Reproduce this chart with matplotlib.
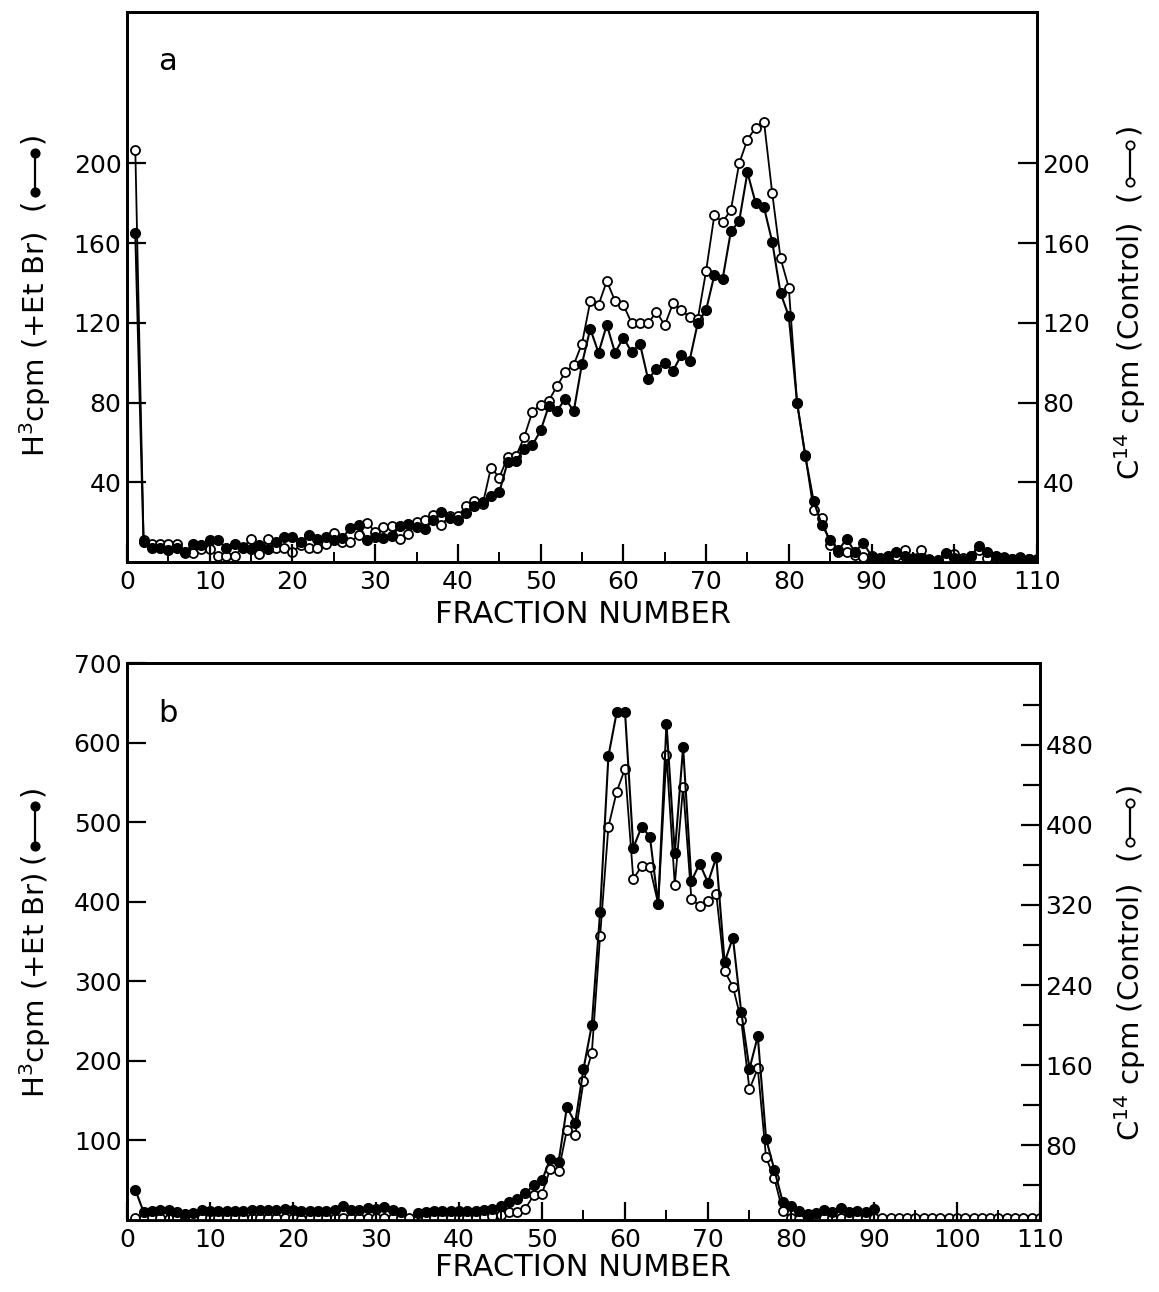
import numpy as np
import matplotlib
matplotlib.use("Agg")
import matplotlib.pyplot as plt
from matplotlib.lines import Line2D

nan = np.nan

# ---- panel a: fractions 1..110 ----
frac_a = list(range(1, 111))
h3_a = [165, 10, 7, 7, 6, 7, 5, 9, 8.6, 10.8,
        10.8, 7, 9, 7, 6.5, 8.6, 6.4, 10, 12.8, 12.8,
        10, 13.6, 11.7, 12.8, 11, 12, 17, 18.7, 11, 12.5,
        12, 13, 18, 19, 17.8, 16.7, 21, 25, 22, 21,
        24.6, 28, 30, 33, 35, 50, 50.7, 56.6, 58.6, 66,
        78.5, 76, 82, 75.6, 99.5, 117, 105, 119, 105, 112.6,
        105.4, 109.6, 91.6, 97, 100, 96, 103.7, 101, 120, 126.4,
        144, 142, 166, 171, 195.5, 180, 178, 160.6, 135, 123.4,
        80, 53, 30.5, 18.7, 11, 6, 11.6, 5, 9.6, 3,
        2, 3, 5, 3, 1.5, 2, 1, 1, 4.5, 2,
        1, 3, 8, 5, 3, 2, 1.5, 2, 1.5, 1]
c14_a = [207, 10.8, 8.8, 8.8, 8.8, 8.8, 4.7, 4.7, 6.4, 6.4,
         3, 3, 3, 7.4, 11.4, 4, 11.4, 7, 7, 5.2,
         8.4, 7, 7, 8.8, 14.8, 10, 10, 13.5, 19.5, 15.3,
         17.5, 18, 11.4, 14, 20, 21, 23.7, 18.7, 23, 23,
         28, 30.5, 29, 47.4, 42.4, 52.5, 53, 62.5, 75.4, 79,
         81, 88.5, 95.4, 99, 109.6, 130.8, 129, 141, 131, 129,
         120, 119.7, 119.7, 125.7, 118.7, 129.8, 126.4, 123, 122, 146,
         174, 170.7, 176.6, 200, 212, 218, 221, 185, 152.5, 137.7,
         80, 53.5, 26, 22, 8.6, 5.2, 5, 3.5, 2.7, 2,
         1, 0.5, 3, 6, 2, 6, 1.5, 0.5, 1, 4,
         2, 3, 6, 2, 0.5, 2.5, 1.5, 2.5, 1.5, 1.5]

# ---- panel b ----
frac_b_h3 = list(range(1, 91))
h3_b = [38, 10, 11, 12, 13, 10, 8, 9, 12, 11,
        11, 11, 11, 11, 12, 12, 12, 12, 14, 12,
        11, 11, 11, 11, 12, 18, 12, 13, 15, 14,
        17, 13, 10, nan, 9, 10, 11, 11, 11, 11,
        11, 11, 12, 14, 17.6, 23, 27, 33.5, 44, 50,
        77, 73, 142, 122, 190, 245, 387, 583, 638, 639,
        468, 494, 482, 397, 624, 461, 594, 426, 448, 424,
        456, 324, 355, 262, 190, 231, 102, 63, 23, 17.5,
        11, 7, 8.5, 12.4, 10, 15.4, 10, 11.6, 10, 14]
frac_b_c14 = list(range(1, 111))
c14_b = [8, 8, 8, 8, 7, 8, 8, 8, 8, 8,
         8, 8, 8, 8, 8, 8, 8, 8, 8, 8,
         7, 8, 8, 8, 8, 8, 8, 8, 8, 8,
         8, 8, 8, 8, 8, 8, 8, 8, 8, 8,
         8, 8, 9, 10, 10.2, 13.5, 13.9, 16.9, 30.4, 31.8,
         56.7, 54.5, 95.5, 90, 144, 172, 289, 398, 433, 456,
         346, 358.6, 357.5, 321, 469.5, 340, 438, 326, 319, 323.6,
         331, 254, 238.5, 205, 136, 157, 68, 47, 14.5, 7.9,
         7, 5, 5, 8, 8, 8, 8, 8, 8, 8,
         8, 8, 8, 8, 8, 8, 8, 8, 8, 8,
         8, 8, 8, 8, 8, 8, 8, 8, 8, 8]

plt.rcParams['font.family'] = ['DejaVu Sans']
W, H = 1159, 1292
fig = plt.figure(figsize=(W / 100, H / 100), dpi=100)

ax_a = fig.add_axes([0.1096, 0.565, 0.7851, 0.4257])
ax_b = fig.add_axes([0.1096, 0.0557, 0.7877, 0.4311])


def draw(ax, xf, yf, xo, yo, ylim_l, ylim_r, lticks, rticks, rminor, letter):
    ax2 = ax.twinx()
    ax.plot(xf, yf, '-', color='black', lw=1.5, marker='o', ms=7,
            mfc='black', mec='black', zorder=3)
    ax2.plot(xo, yo, '-', color='black', lw=1.3, marker='o', ms=6.5,
             mfc='white', mec='black', mew=1.3, zorder=4)
    ax.set_xlim(0, 110)
    ax.set_ylim(*ylim_l)
    ax2.set_ylim(*ylim_r)
    ax.set_xticks(range(0, 111, 10))
    ax.set_xticks(range(5, 110, 10), minor=True)
    ax.set_yticks(lticks)
    ax2.set_yticks(rticks)
    if rminor:
        ax2.set_yticks(rminor, minor=True)
    ax.tick_params(axis='x', which='major', direction='in', length=13,
                   width=1.6, labelsize=18, pad=6)
    ax.tick_params(axis='x', which='minor', direction='in', length=7, width=1.4)
    ax.tick_params(axis='y', direction='in', length=14, width=1.6,
                   labelsize=18, pad=4)
    ax2.tick_params(axis='y', which='major', direction='in', length=14,
                    width=1.6, labelsize=18, pad=4)
    ax2.tick_params(axis='y', which='minor', direction='in', length=12,
                    width=1.6)
    for a in (ax, ax2):
        for s in a.spines.values():
            s.set_linewidth(2)
    ax.set_zorder(ax2.get_zorder() + 1)
    ax.patch.set_visible(False)
    ax.text(0.045, 0.91, letter, transform=ax.transAxes, fontsize=22,
            ha='center', va='center')


draw(ax_a, frac_a, h3_a, frac_a, c14_a, (0, 276), (0, 276),
     [40, 80, 120, 160, 200], [40, 80, 120, 160, 200], None, 'a')
draw(ax_b, frac_b_h3, h3_b, frac_b_c14, c14_b, (0, 700), (5.5, 561.5),
     [100, 200, 300, 400, 500, 600, 700], [80, 160, 240, 320, 400, 480],
     [40, 120, 200, 280, 360, 440, 520], 'b')


def ylabel(text, x, y_main, dot1, dot2, filled):
    # positions given in pixels from the top-left corner
    fx = x / W
    fig.text(fx, 1 - y_main / H, text, rotation=90, fontsize=21,
             ha='center', va='center')
    mid = (dot1 + dot2) / 2
    fig.text(fx, 1 - mid / H, '(      )', rotation=90, fontsize=21,
             ha='center', va='center')
    fc = 'black' if filled else 'white'
    fig.add_artist(Line2D([fx, fx], [1 - dot1 / H, 1 - dot2 / H],
                          transform=fig.transFigure, color='black', lw=1.6,
                          marker='o', ms=6, mfc=fc, mec='black', mew=1.3))


left_lab = 'H$^3$cpm (+Et Br)'
right_lab = 'C$^{14}$ cpm (Control)'
ylabel(left_lab, 35, 344, 153, 192, True)
ylabel(right_lab, 1130, 352, 145, 182, False)
ylabel(left_lab, 35, 985, 806, 846, True)
ylabel(right_lab, 1130, 1013, 803, 842, False)

fig.text(0.503, 0.524, 'FRACTION NUMBER', fontsize=22, ha='center', va='center')
fig.text(0.503, 0.0186, 'FRACTION NUMBER', fontsize=22, ha='center', va='center')

fig.savefig('out.png', dpi=100)
